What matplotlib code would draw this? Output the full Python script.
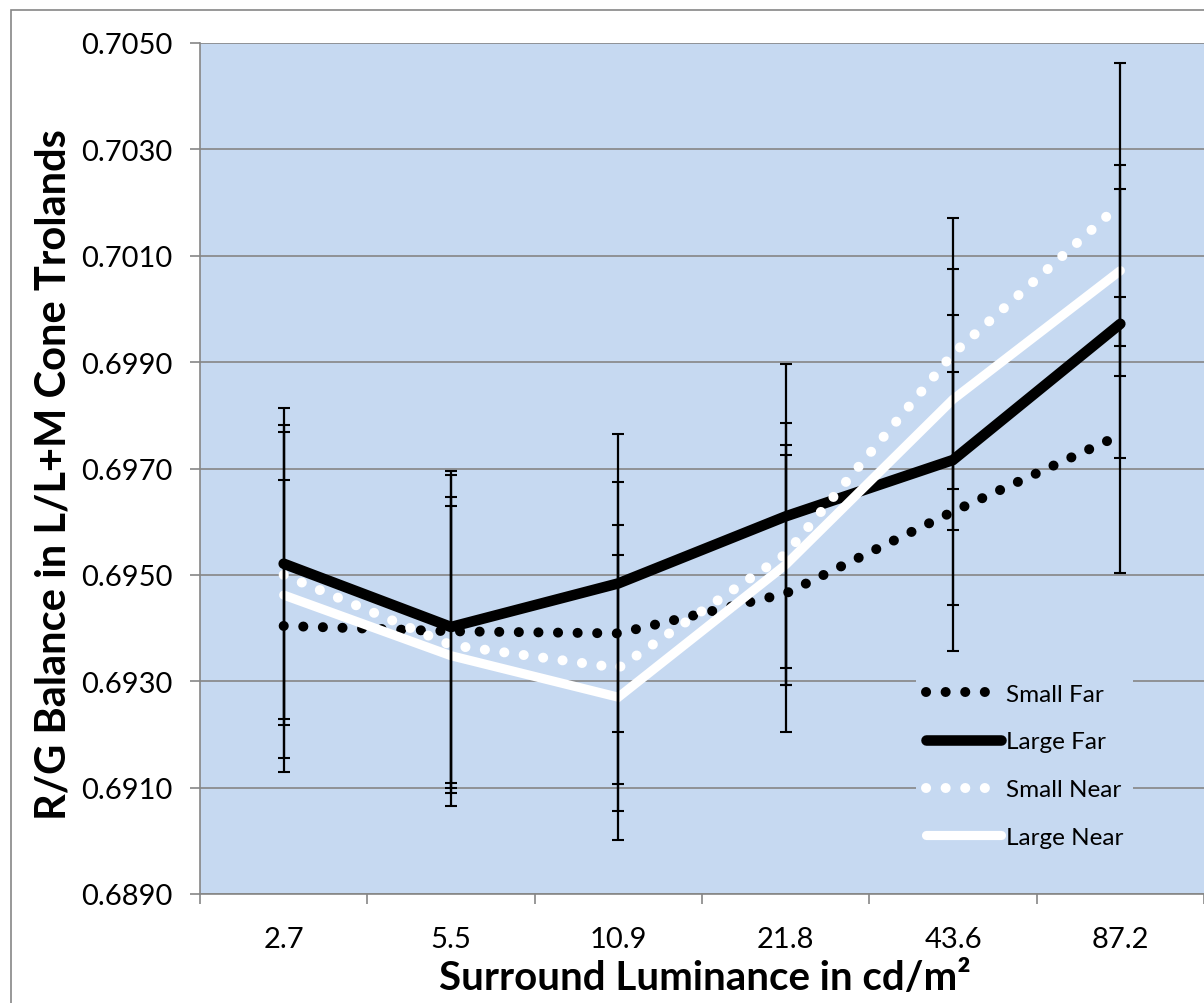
import matplotlib
matplotlib.use("Agg")
import matplotlib.pyplot as plt
from matplotlib.patches import Rectangle
import numpy as np

# Surround luminance levels (cd/m^2), shown as categories
luminance = ["2.7", "5.5", "10.9", "21.8", "43.6", "87.2"]

# Mean R/G balance (L/L+M cone trolands) per condition
small_far = [0.69404, 0.69394, 0.69390, 0.69465, 0.69619, 0.69763]
large_far = [0.69521, 0.69402, 0.69484, 0.69610, 0.69716, 0.69972]
small_near = [0.69500, 0.69368, 0.69325, 0.69539, 0.69916, 0.70197]
large_near = [0.69462, 0.69348, 0.69270, 0.69519, 0.69830, 0.70072]

# Error-bar half-widths per condition
small_far_err = [0.00274, 0.00294, 0.00284, 0.00261, 0.00263, 0.00260]
large_far_err = [0.00292, 0.00294, 0.00280, 0.00286, 0.00272, 0.00253]
small_near_err = [0.00282, 0.00278, 0.00269, 0.00246, 0.00255, 0.00266]
large_near_err = [0.00307, 0.00282, 0.00268, 0.00226, 0.00245, 0.00198]

y_ticks = [0.6890, 0.6910, 0.6930, 0.6950, 0.6970, 0.6990, 0.7010, 0.7030, 0.7050]

FONT = ["Lato", "DejaVu Sans"]
plt.rcParams["font.family"] = FONT

W, H = 1204, 1004
fig = plt.figure(figsize=(W / 100, H / 100), dpi=100)
fig.patch.set_facecolor("white")

# chart-area border
fig.patches.append(Rectangle((11 / W, -0.2), 1.5, 1.2 - 11 / H,
                             transform=fig.transFigure, fill=False,
                             edgecolor="#868686", lw=1.2))

ax = fig.add_axes([200 / W, 1 - 895 / H, 1 - 200 / W, (895 - 44) / H])
ax.set_facecolor("#C6D9F1")

x = np.arange(len(luminance))

series = [
    ("Small Far", small_far, small_far_err, "black", "dot"),
    ("Large Far", large_far, large_far_err, "black", "solid"),
    ("Small Near", small_near, small_near_err, "white", "dot"),
    ("Large Near", large_near, large_near_err, "white", "solid"),
]

for i, (name, vals, err, color, style) in enumerate(series):
    if style == "dot":
        ax.plot(x, vals, color=color, lw=7.2, linestyle=(0, (0.01, 1.95)),
                dash_capstyle="round", solid_capstyle="round", label=name,
                zorder=3 + i)
    else:
        lw = 7.6 if color == "black" else 6.6
        ax.plot(x, vals, color=color, lw=lw, solid_capstyle="round",
                solid_joinstyle="miter", label=name, zorder=3 + i)

for name, vals, err, color, style in series:
    ax.errorbar(x, vals, yerr=err, fmt="none", ecolor="black",
                elinewidth=1.6, capsize=4.3, capthick=1.5, zorder=10)

ax.set_xlim(-0.5, len(luminance) - 0.5)
ax.set_ylim(0.6890, 0.7050)
ax.set_yticks(y_ticks)
ax.set_yticklabels([f"{v:.4f}" for v in y_ticks])

ax.set_xticks(np.arange(-0.5, len(luminance), 1.0))
ax.set_xticklabels([])
ax.set_xticks(x, minor=True)
ax.set_xticklabels(luminance, minor=True)

ax.tick_params(axis="x", which="major", length=7, width=1.2, color="#868686")
ax.tick_params(axis="x", which="minor", length=0, pad=23, labelsize=21)
ax.tick_params(axis="y", length=7, width=1.2, color="#868686", pad=13,
               labelsize=21)

ax.yaxis.grid(True, color="#868686", lw=1.2)
ax.set_axisbelow(True)

for side in ("top", "right"):
    ax.spines[side].set_visible(False)
for side in ("left", "bottom"):
    ax.spines[side].set_color("#868686")
    ax.spines[side].set_linewidth(1.2)

fig.text(705 / W, 1 - 979 / H, "Surround Luminance in cd/m²",
         ha="center", va="center", fontsize=29, fontweight="bold")
fig.text(54 / W, 1 - 475 / H, "R/G Balance in L/L+M Cone Trolands",
         ha="center", va="center", rotation=90, fontsize=30,
         fontweight="bold")

leg = ax.legend(loc="upper left", bbox_to_anchor=(916 / W, 1 - 675 / H),
                bbox_transform=fig.transFigure, fontsize=17.5,
                handlelength=3.1, handletextpad=0.2, labelspacing=1.1,
                borderpad=0.4, borderaxespad=0, frameon=True, fancybox=False)
leg.get_frame().set_facecolor("#C6D9F1")
leg.get_frame().set_edgecolor("none")
leg.get_frame().set_alpha(1)

fig.savefig("out.png", dpi=100, facecolor="white")
